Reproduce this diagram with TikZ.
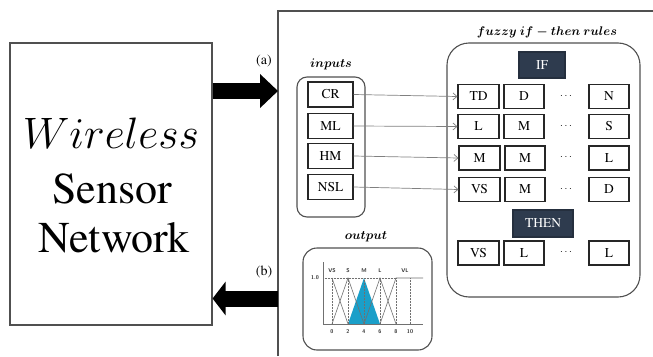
\documentclass[tikz,border=0pt]{standalone}
\usepackage{fix-cm}
\usepackage{fontspec}
\setmainfont{texgyretermes}[Extension=.otf, UprightFont=*-regular, BoldFont=*-bold,
  ItalicFont=*-italic, BoldItalicFont=*-bolditalic]
\usetikzlibrary{arrows.meta}
\definecolor{navy}{HTML}{2E3B4E}
\definecolor{mblue}{HTML}{1A9FC9}
\definecolor{edge}{HTML}{505050}
\definecolor{curve}{HTML}{707070}
\tikzset{
  cell/.style={draw=black!85, line width=1.1pt, minimum width=41pt, minimum height=24pt,
    inner sep=0pt, font=\fontsize{13.5}{13.5}\selectfont},
  hdr/.style={cell, fill=navy, draw=navy!80!black, text=white},
  group/.style={draw=edge, line width=1.1pt, inner sep=0pt},
  feed/.style={draw=gray, line width=0.7pt, -{Straight Barb[length=4pt,width=7pt]}},
  ttl/.style={font=\fontsize{12.5}{12.5}\selectfont\boldmath},
  big/.style={font=\fontsize{44}{44}\selectfont, anchor=base, inner sep=0pt},
  blockarrow/.style={line width=16pt, draw=black},
  dotsnode/.style={inner sep=0pt, font=\fontsize{10}{10}\selectfont},
  tiny/.style={inner sep=0pt, font=\fontsize{5.5}{5.5}\selectfont\sffamily\bfseries, text=black!80},
  guide/.style={densely dotted, draw=curve, line width=0.5pt},
  mf/.style={draw=curve, line width=0.6pt}
}
\begin{document}
\begin{tikzpicture}[x=1pt,y=-1pt]
\useasboundingbox (0,0) rectangle (653,356);
\fill[white] (0,0) rectangle (653,356);

% wireless sensor network block
\node[draw=edge, line width=1.1pt, minimum width=202pt, minimum height=282pt, inner sep=0pt] (wsn) at (111,184) {};
\node[big] (w1) at (111,148) {$Wireless$};
\node[big] (w2) at (112,203) {Sensor};
\node[big] (w3) at (114,252) {Network};

% fuzzy system frame
\coordinate (fbot) at (278,356);
\coordinate (ftop) at (278,11);
\coordinate (fright) at (653,11);
\draw[edge, line width=1.1pt] (fbot) -- (ftop) -- (fright);

% data in and decision out
\coordinate (ain) at (278,91);
\coordinate (bout) at (278,298.5);
\draw[blockarrow, -{Triangle[length=18pt,width=33pt]}] (wsn.east |- ain) -- (ain);
\draw[blockarrow, -{Triangle[length=13pt,width=33pt]}] (bout) -- (wsn.east |- bout);
\node[font=\fontsize{14}{14}\selectfont] (la) at (264,61) {(a)};
\node[font=\fontsize{14}{14}\selectfont] (lb) at (264,272) {(b)};

% inputs
\node[group, rounded corners=10pt, minimum width=68pt, minimum height=140pt] (inbox) at (331,147) {};
\node[ttl] (intitle) at (331,64) {$inputs$};
\node[cell, minimum width=45pt, minimum height=25pt] (cr)  at (330.5,94.5) {CR};
\node[cell, minimum width=45pt, minimum height=25pt] (ml)  at (330.5,126) {ML};
\node[cell, minimum width=45pt, minimum height=25pt] (hm)  at (330.5,156) {HM};
\node[cell, minimum width=45pt, minimum height=25pt] (nsl) at (330.5,187) {NSL};

% rule base
\node[group, rounded corners=22pt, minimum width=193pt, minimum height=254pt] (rules) at (543.5,170) {};
\node[ttl] (rtitle) at (547,32) {$fuzzy\ if - then\ rules$};
\node[hdr, minimum width=46pt, minimum height=26pt] (if) at (542,65) {IF};

\node[cell] (r11) at (478.5,96.5) {TD};
\node[cell, minimum width=40pt] (r12) at (524,96.5) {D};
\node[dotsnode] (r13) at (566,96) {$\cdots$};
\node[cell, minimum width=40pt] (r14) at (609,96.5) {N};

\node[cell] (r21) at (478.5,126.5) {L};
\node[cell, minimum width=40pt] (r22) at (524,126.5) {M};
\node[dotsnode] (r23) at (566,126) {$\cdots$};
\node[cell, minimum width=40pt] (r24) at (609,126.5) {S};

\node[cell] (r31) at (479.5,158) {M};
\node[cell, minimum width=40pt] (r32) at (525,158) {M};
\node[dotsnode] (r33) at (566,157.5) {$\cdots$};
\node[cell, minimum width=40pt] (r34) at (609,158) {L};

\node[cell] (r41) at (479.5,189.5) {VS};
\node[cell, minimum width=40pt] (r42) at (525,189.5) {M};
\node[dotsnode] (r43) at (566,189) {$\cdots$};
\node[cell, minimum width=40pt] (r44) at (609,189.5) {D};

\node[hdr, minimum width=60pt, minimum height=27pt] (then) at (543,223.5) {THEN};

\node[cell] (o1) at (478.5,253) {VS};
\node[cell, minimum width=40pt] (o2) at (524,253) {L};
\node[dotsnode] (o3) at (566,252.5) {$\cdots$};
\node[cell, minimum width=40pt] (o4) at (609,253) {L};

% inputs feed the rule antecedents
\draw[feed] (cr.east)  -- (r11.west);
\draw[feed] (ml.east)  -- (r21.west);
\draw[feed] (hm.east)  -- (r31.west);
\draw[feed] (nsl.east) -- (r41.west);

% output membership functions
\node[group, rounded corners=14pt, minimum width=129pt, minimum height=102pt] (outbox) at (367.5,299) {};
\node[ttl] (otitle) at (366,237) {$output$};

\fill[mblue] (348,324) -- (364,278) -- (380,324) -- cycle;
\foreach \xx in {332,348,364,380,396,410}
  \draw[guide] (\xx,278) -- (\xx,324);
\draw[guide] (323,278) -- (396,278);
\draw[mf] (332,278) -- (348,324);
\draw[mf] (332,324) -- (348,278) -- (364,324);
\draw[mf] (364,324) -- (380,278) -- (396,324);
\draw[mf] (380,324) -- (396,278) -- (423,278);
\draw[draw=curve, line width=0.7pt] (323,262) -- (323,324) -- (423,324);

\node[tiny] (t10) at (315,278) {1.0};
\node[tiny] (lvs) at (332,271) {VS};
\node[tiny] (ls)  at (348,271) {S};
\node[tiny] (lm)  at (364,271) {M};
\node[tiny] (ll)  at (380,271) {L};
\node[tiny] (lvl) at (405,271) {VL};
\node[tiny] (x0)  at (332,332) {0};
\node[tiny] (x2)  at (348,332) {2};
\node[tiny] (x4)  at (364,332) {4};
\node[tiny] (x6)  at (380,332) {6};
\node[tiny] (x8)  at (396,332) {8};
\node[tiny] (x10) at (410,332) {10};
\end{tikzpicture}
\end{document}
